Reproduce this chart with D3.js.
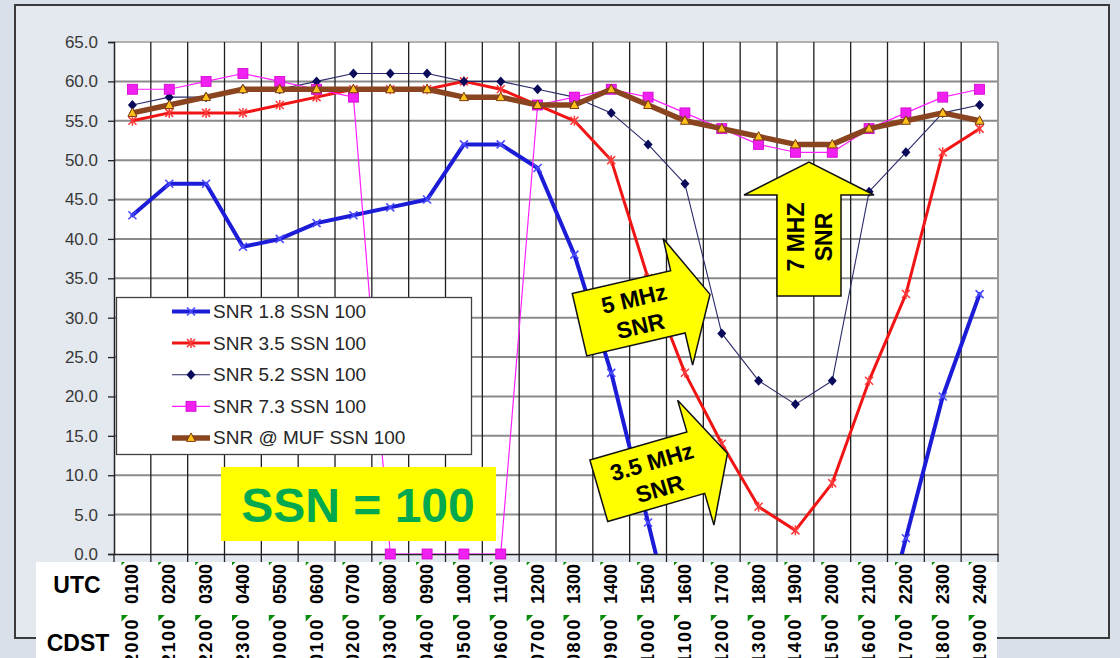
<!DOCTYPE html>
<html><head><meta charset="utf-8">
<script src="https://cdn.jsdelivr.net/npm/d3@7"></script>
<style>
html,body{margin:0;padding:0;background:#dbe2eb;overflow:hidden}
svg{display:block}
text{font-family:"Liberation Sans",Arial,sans-serif}
</style></head><body>
<svg id="c" width="1120" height="658"></svg>
<script>
// ---------- data ----------
const utcLabels = ["0100","0200","0300","0400","0500","0600","0700","0800","0900","1000","1100","1200",
                   "1300","1400","1500","1600","1700","1800","1900","2000","2100","2200","2300","2400"];
const cdstLabels = ["2000","2100","2200","2300","0000","0100","0200","0300","0400","0500","0600","0700",
                    "0800","0900","1000","1100","1200","1300","1400","1500","1600","1700","1800","1900"];
const yTicks = [0,5,10,15,20,25,30,35,40,45,50,55,60,65];
const snr18  = [43,47,47,39,40,42,43,44,45,52,52,49,38,23,4,-15,null,null,null,null,-16,2,20,33];
const snr35  = [55,56,56,56,57,58,59,59,59,60,59,57,55,50,35,23,14,6,3,9,22,33,51,54];
const snr52  = [57,58,58,59,59,60,61,61,61,60,60,59,58,56,52,47,28,22,19,22,46,51,56,57];
const snr73  = [59,59,60,61,60,59,58,0,0,0,0,57,58,59,58,56,54,52,51,51,54,56,58,59];
const snrMuf = [56,57,58,59,59,59,59,59,59,58,58,57,57,59,57,55,54,53,52,52,54,55,56,55];
const seriesNames = ["SNR 1.8 SSN 100","SNR 3.5 SSN 100","SNR 5.2 SSN 100","SNR 7.3 SSN 100","SNR @ MUF SSN 100"];
const arrowTexts = [["5 MHz","SNR"],["3.5 MHz","SNR"],["7 MHZ","SNR"]];
const badgeText = "SSN = 100";

// ---------- layout ----------
const svg = d3.select("#c");
const L = 114, R = 998, T = 42, B = 554;
const x = d3.scaleBand().domain(utcLabels).range([L, R]).padding(0);
const bw = x.bandwidth();
const y = d3.scaleLinear().domain([0, 65]).range([B, T]);
const cx = i => x(utcLabels[i]) + bw / 2;

// background + frame
svg.append("rect").attr("width",1120).attr("height",658).attr("fill","#d9e0ea");
svg.append("rect").attr("x",15).attr("y",5).attr("width",1094).attr("height",633)
   .attr("fill","#e4e9f0").attr("stroke","#3a3a3a").attr("stroke-width",2);

// plot area
svg.append("rect").attr("x",L).attr("y",T).attr("width",R-L).attr("height",B-T).attr("fill","#fff");

// horizontal grid
svg.append("g").selectAll("line").data(yTicks.filter(d=>d>0)).join("line")
  .attr("x1",L).attr("x2",R).attr("y1",d=>y(d)).attr("y2",d=>y(d))
  .attr("stroke",d=>d===65?"#b0b0b0":"#8a8a8a").attr("stroke-width",2);
// vertical grid
svg.append("g").selectAll("line").data(utcLabels.slice(1)).join("line")
  .attr("x1",d=>x(d)).attr("x2",d=>x(d)).attr("y1",T).attr("y2",B)
  .attr("stroke","#1e1e1e").attr("stroke-width",1.3);
svg.append("line").attr("x1",R).attr("x2",R).attr("y1",T).attr("y2",B).attr("stroke","#9a9a9a").attr("stroke-width",2);

// y axis
const yAxis = svg.append("g").attr("transform",`translate(${L},0)`)
  .call(d3.axisLeft(y).tickValues(yTicks).tickSize(6).tickPadding(10).tickFormat(d3.format(".1f")));
yAxis.select(".domain").attr("stroke","#222").attr("stroke-width",1.5);
yAxis.selectAll(".tick line").attr("stroke","#222").attr("stroke-width",1.3);
yAxis.selectAll(".tick text").attr("font-size",17).attr("fill","#383838")
  .style("font-family",'"Liberation Sans",Arial,sans-serif');

// x axis line with ticks
const xAxis = svg.append("g").attr("transform",`translate(0,${B})`)
  .call(d3.axisBottom(x).tickSize(0).tickFormat(""));
xAxis.select(".domain").attr("stroke","#222").attr("stroke-width",1.5);
svg.append("g").selectAll("line").data(utcLabels.concat(["end"])).join("line")
  .attr("x1",(d,i)=>L+i*bw).attr("x2",(d,i)=>L+i*bw).attr("y1",B).attr("y2",B+8)
  .attr("stroke","#222").attr("stroke-width",1.3);

// clip for lines
svg.append("clipPath").attr("id","pc").append("rect").attr("x",L).attr("y",T).attr("width",R-L).attr("height",B-T);

// markers
function drawMarker(g, type, px, py) {
  if (type === "x") {
    g.append("path").attr("d",`M${px-4},${py-4}L${px+4},${py+4}M${px-4},${py+4}L${px+4},${py-4}`)
      .attr("stroke","#4a4aff").attr("stroke-width",1.6).attr("fill","none");
  } else if (type === "star") {
    g.append("path").attr("d",`M${px-4},${py-4}L${px+4},${py+4}M${px-4},${py+4}L${px+4},${py-4}M${px},${py-5}L${px},${py+5}`)
      .attr("stroke","#ff3a3a").attr("stroke-width",1.5).attr("fill","none");
  } else if (type === "diamond") {
    g.append("path").attr("d",`M${px},${py-5}L${px+4.5},${py}L${px},${py+5}L${px-4.5},${py}Z`)
      .attr("fill","#0a0a5a");
  } else if (type === "square") {
    g.append("rect").attr("x",px-5).attr("y",py-5).attr("width",10).attr("height",10)
      .attr("fill","#f020f0").attr("stroke","#d000d0").attr("stroke-width",0.8);
  } else if (type === "tri") {
    g.append("path").attr("d",`M${px},${py-5}L${px+4.5},${py+3.5}L${px-4.5},${py+3.5}Z`)
      .attr("fill","#ffc21a").attr("stroke","#7a3a10").attr("stroke-width",1);
  }
}

const series = [
  {data:snr18, color:"#1c1cd8", width:4,   marker:"x"},
  {data:snr35, color:"#f01414", width:3,   marker:"star"},
  {data:snr52, color:"#2a2a6a", width:1.1, marker:"diamond"},
  {data:snr73, color:"#ff20ff", width:1.2, marker:"square"},
  {data:snrMuf,color:"#8a4520", width:5.5, marker:"tri"}
];

const line = d3.line().defined(d=>d!=null).x((d,i)=>cx(i)).y(d=>y(d));
series.forEach(s=>{
  const g = svg.append("g");
  const idx = s.data.map((v,i)=>({v,i}));
  g.append("path").attr("clip-path","url(#pc)")
    .attr("d", d3.line().defined(d=>d.v!=null).x(d=>cx(d.i)).y(d=>y(d.v))(idx))
    .attr("fill","none").attr("stroke",s.color).attr("stroke-width",s.width)
    .attr("stroke-linejoin","round").attr("stroke-linecap","round");
  idx.filter(d=>d.v!=null && d.v>=0).forEach(d=>drawMarker(g,s.marker,cx(d.i),y(d.v)));
});

// legend
const lg = svg.append("g");
lg.append("rect").attr("x",116.5).attr("y",297.5).attr("width",355).attr("height",157)
  .attr("fill","#fff").attr("stroke","#404040").attr("stroke-width",1.3);
series.forEach((s,i)=>{
  const by = 318 + i*31.6;
  const ly = by - 6.5;
  lg.append("line").attr("x1",172).attr("x2",210).attr("y1",ly).attr("y2",ly)
    .attr("stroke",s.color).attr("stroke-width",s.width);
  drawMarker(lg, s.marker, 191, ly);
  lg.append("text").attr("x",213).attr("y",by).attr("font-size",19).attr("fill","#262626").text(seriesNames[i]);
});

// SSN badge
svg.append("rect").attr("x",221).attr("y",467).attr("width",275).attr("height",74).attr("fill","#ffff00");
svg.append("text").attr("x",358).attr("y",521.5).attr("text-anchor","middle")
  .attr("font-size",48).attr("font-weight","bold").attr("fill","#00a94f").text(badgeText);

// block arrows
function blockArrow(tx, ty, angle, lines) {
  const g = svg.append("g").attr("transform",`translate(${tx},${ty}) rotate(${angle})`);
  g.append("path").attr("d","M0,-32L101,-32L101,-65L134,0L101,65L101,32L0,32Z")
    .attr("fill","#ffff00").attr("stroke","#111").attr("stroke-width",1.5).attr("stroke-linejoin","miter");
  const vs = [-13, 15];
  lines.forEach((t,k)=>{
    g.append("text").attr("x",59).attr("y",vs[k]).attr("text-anchor","middle")
      .attr("dominant-baseline","central").attr("font-size",23).attr("font-weight","bold")
      .attr("fill","#000").text(t);
  });
}
blockArrow(579.5, 324.7, -13.1, arrowTexts[0]);
blockArrow(598.8, 490.8, -16.2, arrowTexts[1]);
blockArrow(809, 296, -90, arrowTexts[2]);

// category label table
const tb = svg.append("g");
tb.append("rect").attr("x",36).attr("y",562).attr("width",961).attr("height",96).attr("fill","#fff");
tb.append("text").attr("x",77).attr("y",593).attr("text-anchor","middle").attr("font-size",23)
  .attr("font-weight","bold").attr("fill","#000").text("UTC");
tb.append("text").attr("x",78).attr("y",651).attr("text-anchor","middle").attr("font-size",23)
  .attr("font-weight","bold").attr("fill","#000").text("CDST");
utcLabels.forEach((d,i)=>{
  const c = cx(i), x0 = x(d) + 7.5;
  tb.append("path").attr("d",`M${x0},562L${x0+3.5},562L${x0},565.5Z`).attr("fill","#0a8a0a");
  tb.append("path").attr("d",`M${x0},615L${x0+6.5},615L${x0},621.5Z`).attr("fill","#0a8a0a");
  tb.append("text").attr("transform",`translate(${c},584) rotate(-90)`).attr("text-anchor","middle")
    .attr("dominant-baseline","central").attr("font-size",18).attr("font-weight","bold").attr("fill","#000").text(d);
  tb.append("text").attr("transform",`translate(${c},664) rotate(-90)`).attr("text-anchor","start")
    .attr("dominant-baseline","central").attr("font-size",18).attr("font-weight","bold")
    .attr("letter-spacing",1.5).attr("fill","#000").text(cdstLabels[i]);
});
</script>
</body></html>
